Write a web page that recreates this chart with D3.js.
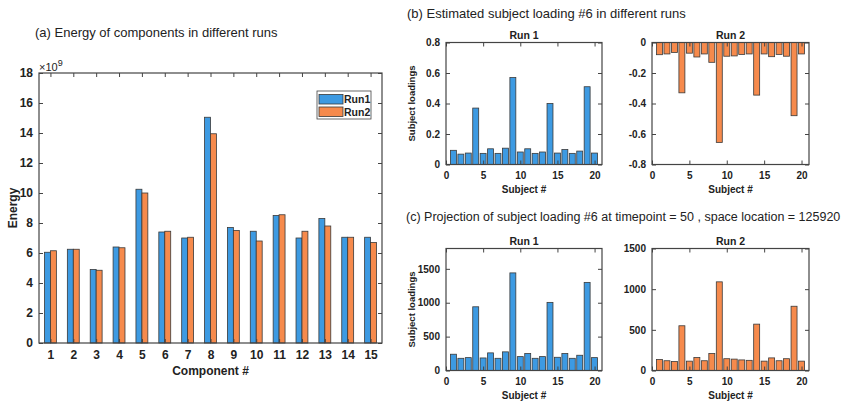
<!DOCTYPE html>
<html>
<head>
<meta charset="utf-8">
<script src="https://cdn.jsdelivr.net/npm/d3@7"></script>
<style>
  body { margin: 0; background: #fff; }
  svg { font-family: Arial, "Liberation Sans", sans-serif; }
  .tick text { font-weight: bold; fill: #222; }
</style>
</head>
<body>
<svg id="chart" width="857" height="403"></svg>
<script>
// (a) energy per component, x10^9
const components = d3.range(1, 16);
const energyRun1 = [6.05, 6.25, 4.9, 6.4, 10.25, 7.4, 7.0, 15.05, 7.7, 7.45, 8.5, 7.0, 8.3, 7.05, 7.05];
const energyRun2 = [6.15, 6.25, 4.85, 6.35, 10.0, 7.45, 7.05, 13.95, 7.5, 6.8, 8.55, 7.45, 7.8, 7.05, 6.7];
const energyTicks = d3.range(0, 19, 2);

// (b) estimated subject loading #6
const subjects = d3.range(1, 21);
const loadRun1 = [0.093, 0.068, 0.075, 0.37, 0.073, 0.103, 0.073, 0.107, 0.57, 0.082,
                  0.103, 0.073, 0.082, 0.40, 0.075, 0.098, 0.073, 0.088, 0.51, 0.075];
const loadRun2 = [-0.08, -0.075, -0.065, -0.33, -0.07, -0.095, -0.075, -0.13, -0.655, -0.09,
                  -0.088, -0.078, -0.075, -0.345, -0.075, -0.093, -0.078, -0.09, -0.48, -0.075];

// (c) projection at timepoint 50, space location 125920
const projRun1 = [240, 180, 190, 940, 185, 260, 180, 275, 1440, 205,
                  250, 180, 205, 1005, 195, 250, 180, 225, 1300, 190];
const projRun2 = [135, 120, 110, 550, 115, 160, 120, 210, 1090, 145,
                  140, 130, 125, 570, 115, 155, 120, 145, 790, 115];

const blue = '#3d9ae2';
const orange = '#f68a4c';
const edge = '#3a3a3a';
const axisColor = '#444';

const svg = d3.select('#chart');

// draw a MATLAB-like box with inward ticks on all four sides
function drawBox(g, x, y, xTicks, yTicks, xFmt, yFmt, fontSize) {
  const [x0, x1] = x.range();
  const [y0, y1] = y.range();
  const tl = 4;
  g.append('g')
    .attr('transform', `translate(0,${y0})`)
    .call(d3.axisBottom(x).tickValues(xTicks).tickSize(-tl).tickPadding(7).tickFormat(xFmt))
    .call(a => a.select('.domain').remove());
  g.append('g')
    .attr('transform', `translate(0,${y1})`)
    .call(d3.axisTop(x).tickValues(xTicks).tickSize(-tl).tickFormat(''))
    .call(a => a.select('.domain').remove());
  g.append('g')
    .attr('transform', `translate(${x0},0)`)
    .call(d3.axisLeft(y).tickValues(yTicks).tickSize(-tl).tickPadding(6).tickFormat(yFmt))
    .call(a => a.select('.domain').remove());
  g.append('g')
    .attr('transform', `translate(${x1},0)`)
    .call(d3.axisRight(y).tickValues(yTicks).tickSize(-tl).tickFormat(''))
    .call(a => a.select('.domain').remove());
  g.selectAll('.tick line').attr('stroke', axisColor);
  g.selectAll('.tick text').attr('font-size', fontSize).attr('font-family', 'Arial, "Liberation Sans", sans-serif');
  g.append('rect')
    .attr('x', x0).attr('y', Math.min(y0, y1))
    .attr('width', x1 - x0).attr('height', Math.abs(y0 - y1))
    .attr('fill', 'none').attr('stroke', axisColor).attr('stroke-width', 1.2);
}

// ---------- (a) ----------
const ax = d3.scaleLinear().domain([0.5, 15.5]).range([39, 382]);
const ay = d3.scaleLinear().domain([0, 18]).range([343, 73]);
const gA = svg.append('g');
const bw = 0.26;

gA.append('g').selectAll('rect')
  .data(components)
  .join('rect')
  .attr('x', d => ax(d - bw))
  .attr('y', (d, i) => ay(energyRun1[i]))
  .attr('width', ax(bw) - ax(0))
  .attr('height', (d, i) => ay(0) - ay(energyRun1[i]))
  .attr('fill', blue).attr('stroke', edge).attr('stroke-width', 0.8);

gA.append('g').selectAll('rect')
  .data(components)
  .join('rect')
  .attr('x', d => ax(d))
  .attr('y', (d, i) => ay(energyRun2[i]))
  .attr('width', ax(bw) - ax(0))
  .attr('height', (d, i) => ay(0) - ay(energyRun2[i]))
  .attr('fill', orange).attr('stroke', edge).attr('stroke-width', 0.8);

drawBox(gA, ax, ay, components, energyTicks, d3.format('d'), d3.format('d'), 12);

svg.append('text').attr('x', 35).attr('y', 37).attr('font-size', 13).attr('fill', '#222')
  .text('(a) Energy of components in different runs');
const expo = svg.append('text').attr('x', 39).attr('y', 71).attr('font-size', 11).attr('fill', '#222');
expo.append('tspan').text('×10');
expo.append('tspan').attr('font-size', 9).attr('dy', -5).text('9');
svg.append('text').attr('font-size', 12).attr('font-weight', 'bold').attr('fill', '#222')
  .attr('text-anchor', 'middle')
  .attr('transform', `translate(17,${(ay(0) + ay(18)) / 2}) rotate(-90)`)
  .text('Energy');
svg.append('text').attr('x', (ax.range()[0] + ax.range()[1]) / 2).attr('y', 375)
  .attr('font-size', 12).attr('font-weight', 'bold').attr('fill', '#222')
  .attr('text-anchor', 'middle').text('Component #');

// legend
const legend = svg.append('g');
legend.append('rect').attr('x', 317).attr('y', 91).attr('width', 54).attr('height', 28)
  .attr('fill', '#fff').attr('stroke', axisColor).attr('stroke-width', 0.8);
[['Run1', blue], ['Run2', orange]].forEach(([name, c], i) => {
  legend.append('rect').attr('x', 319).attr('y', 94.5 + i * 12.5).attr('width', 24).attr('height', 9.5)
    .attr('fill', c).attr('stroke', edge).attr('stroke-width', 0.8);
  legend.append('text').attr('x', 344).attr('y', 103 + i * 12.5).attr('font-size', 10.5)
    .attr('font-weight', 'bold').attr('fill', '#222').text(name);
});

// ---------- small panels ----------
function panel(opts) {
  const x = d3.scaleLinear().domain([0, 21]).range([opts.left, opts.right]);
  const y = d3.scaleLinear().domain(opts.yDomain).range([opts.bottom, opts.top]);
  const g = svg.append('g');
  const w = 0.8;
  g.append('g').selectAll('rect')
    .data(subjects)
    .join('rect')
    .attr('x', d => x(d - w / 2))
    .attr('width', x(w) - x(0))
    .attr('y', (d, i) => Math.min(y(0), y(opts.values[i])))
    .attr('height', (d, i) => Math.abs(y(0) - y(opts.values[i])))
    .attr('fill', opts.color).attr('stroke', edge).attr('stroke-width', 0.8);
  drawBox(g, x, y, [0, 5, 10, 15, 20], opts.yTicks, d3.format('d'), opts.yFmt, 10);
  g.append('text').attr('x', (opts.left + opts.right) / 2).attr('y', opts.top - 4)
    .attr('text-anchor', 'middle').attr('font-size', 10.5).attr('font-weight', 'bold')
    .attr('fill', '#222').text(opts.title);
  g.append('text').attr('x', (opts.left + opts.right) / 2).attr('y', opts.bottom + 28)
    .attr('text-anchor', 'middle').attr('font-size', 10).attr('font-weight', 'bold')
    .attr('fill', '#222').text('Subject #');
  if (opts.ylabel) {
    g.append('text').attr('text-anchor', 'middle').attr('font-size', 9.5).attr('font-weight', 'bold')
      .attr('fill', '#222')
      .attr('transform', `translate(415,${(opts.top + opts.bottom) / 2}) rotate(-90)`)
      .text(opts.ylabel);
  }
}

const fmtDec = d => (d === 0 ? '0' : d3.format('.1f')(d).replace('−', '-'));

svg.append('text').attr('x', 407).attr('y', 18).attr('font-size', 13).attr('fill', '#222')
  .text('(b) Estimated subject loading #6 in different runs');

panel({ left: 446, right: 602, top: 42.5, bottom: 164.5, yDomain: [0, 0.8],
  yTicks: [0, 0.2, 0.4, 0.6, 0.8], yFmt: fmtDec, values: loadRun1, color: blue,
  title: 'Run 1', ylabel: 'Subject loadings' });
panel({ left: 652, right: 809, top: 42.5, bottom: 164.5, yDomain: [-0.8, 0],
  yTicks: [-0.8, -0.6, -0.4, -0.2, 0], yFmt: fmtDec, values: loadRun2, color: orange,
  title: 'Run 2' });

svg.append('text').attr('x', 406).attr('y', 221).attr('font-size', 12.5).attr('fill', '#222')
  .text('(c) Projection of subject loading #6 at timepoint = 50 , space location = 125920');

panel({ left: 446, right: 602, top: 248.5, bottom: 370.5, yDomain: [0, 1800],
  yTicks: [0, 500, 1000, 1500], yFmt: d3.format('d'), values: projRun1, color: blue,
  title: 'Run 1', ylabel: 'Subject loadings' });
panel({ left: 652, right: 809, top: 248.5, bottom: 370.5, yDomain: [0, 1500],
  yTicks: [0, 500, 1000, 1500], yFmt: d3.format('d'), values: projRun2, color: orange,
  title: 'Run 2' });
</script>
</body>
</html>
